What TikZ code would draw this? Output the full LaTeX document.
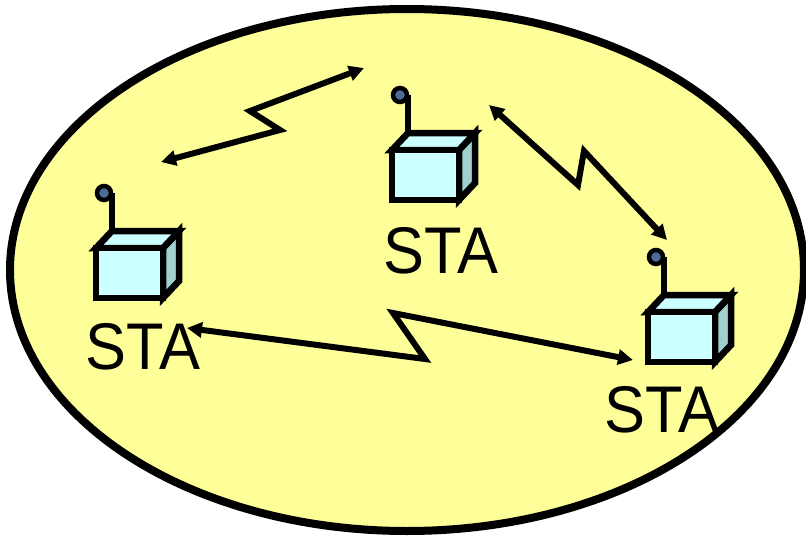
\documentclass[tikz,border=0pt]{standalone}
\usepackage{fontspec}
\setmainfont{Liberation Sans}
\usetikzlibrary{arrows.meta}

\begin{document}
\begin{tikzpicture}[x=1pt,y=-1pt,
  link/.style={line width=6pt,{Triangle[length=15pt,width=15pt]}-{Triangle[length=15pt,width=15pt]}},
  stalabel/.style={font=\fontsize{66}{66}\selectfont,inner sep=0pt}]
\definecolor{cellyellow}{HTML}{FFFF99}
\definecolor{boxfront}{HTML}{CCFFFF}
\definecolor{boxside}{HTML}{A0D0D0}
\definecolor{antenna}{HTML}{4A6D94}
\useasboundingbox (0,0) rectangle (806,538);
\draw[line width=8pt,fill=cellyellow] (407,270) ellipse [x radius=397, y radius=261];
% stations
  \foreach \sx/\sy in {96/248,392/150,648/312}
  { \begin{scope}[shift={(\sx,\sy)},line width=6.5pt]
    \draw[fill=boxside] (67,0) -- (83,-17) -- (83,33) -- (67,50) -- cycle;
    \draw[fill=boxfront] (0,0) -- (16,-17) -- (83,-17) -- (67,0) -- cycle;
    \draw[fill=boxfront] (0,0) rectangle (67,50);
    \draw (16,-17) -- (16,-55);
    \draw[line width=4.5pt,fill=antenna] (8,-55) circle (7);
    \end{scope}}
\node[stalabel] (staL) at (143,347) {\scalebox{0.93}[1]{STA}};
\node[stalabel] (staM) at (441,251) {\scalebox{0.93}[1]{STA}};
\node[stalabel] (staR) at (662,410) {\scalebox{0.93}[1]{STA}};
% radio links
\coordinate (la1) at (161,162); \coordinate (la2) at (280,130);
\coordinate (la3) at (250,111); \coordinate (la4) at (364,68);
\coordinate (lb1) at (489,105); \coordinate (lb2) at (578,185);
\coordinate (lb3) at (584,151); \coordinate (lb4) at (667,240);
\coordinate (lc1) at (187,328); \coordinate (lc2) at (425,359);
\coordinate (lc3) at (393,313); \coordinate (lc4) at (633,360);
\draw[link] (la1) -- (la2) -- (la3) -- (la4);
\draw[link] (lb1) -- (lb2) -- (lb3) -- (lb4);
\draw[link] (lc1) -- (lc2) -- (lc3) -- (lc4);
\end{tikzpicture}
\end{document}
